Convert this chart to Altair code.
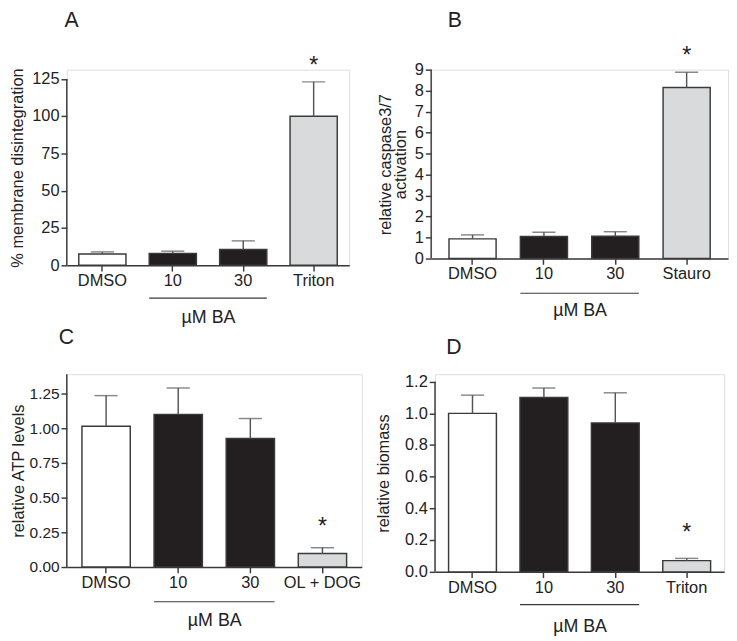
import altair as alt
import pandas as pd

FONT = "Liberation Sans"
TXT = "#222222"
LINE = "#3a3a3a"

# ---------------- data ----------------
A_cond = ["DMSO", "10", "30", "Triton"]
A_mean = [7.6, 8.0, 10.6, 100.0]
A_err = [9.0, 9.5, 16.4, 123.0]
A_star = [None, None, None, 133.7]

B_cond = ["DMSO", "10", "30", "Stauro"]
B_mean = [0.94, 1.05, 1.06, 8.15]
B_err = [1.13, 1.25, 1.28, 8.88]
B_star = [None, None, None, 9.66]

C_cond = ["DMSO", "10", "30", "OL + DOG"]
C_mean = [1.015, 1.10, 0.926, 0.097]
C_err = [1.235, 1.29, 1.07, 0.139]
C_star = [None, None, None, 0.288]

D_cond = ["DMSO", "10", "30", "Triton"]
D_mean = [1.0, 1.10, 0.94, 0.071]
D_err = [1.115, 1.16, 1.13, 0.085]
D_star = [None, None, None, 0.241]

groups = ["control", "BA", "BA", "positive"]
group_domain = ["control", "BA", "positive"]
group_colors = ["#ffffff", "#231f20", "#d9dadb"]


def panel(letter, cond, mean, err, star, ytitle, yticks, yfmt, axis_top,
          dmax, width, height, pin, pout, title_pad, bracket_off, letter_xy,
          ytitle_pad, ylabel_size):
    df = pd.DataFrame({"cond": cond, "mean": mean, "err": err,
                       "star": star, "group": groups})
    xscale = alt.Scale(domain=cond, paddingInner=pin, paddingOuter=pout)
    xaxis = alt.Axis(labelAngle=0, title="µM BA", titlePadding=title_pad,
                     titleFontSize=18.5, titleFontWeight="normal",
                     labelFontSize=17, tickSize=6, labelPadding=2,
                     domainColor=LINE, tickColor=LINE, domainWidth=1.5,
                     tickWidth=1.5, labelColor=TXT, titleColor=TXT,
                     labelFont=FONT, titleFont=FONT)
    yscale = alt.Scale(domain=[0, dmax], nice=False, zero=True)
    yaxis = alt.Axis(values=yticks, format=yfmt, domain=False, grid=False,
                     tickSize=6, labelPadding=2, labelFontSize=ylabel_size,
                     titleFontSize=17, titleFontWeight="normal",
                     titlePadding=ytitle_pad, titleLineHeight=16,
                     tickColor=LINE, tickWidth=1.5, labelColor=TXT,
                     titleColor=TXT, labelFont=FONT, titleFont=FONT)

    def X(f="cond", **kw):
        return alt.X(f"{f}:N", scale=xscale, axis=xaxis, title="µM BA", **kw)

    def Y(f):
        return alt.Y(f"{f}:Q", scale=yscale, axis=yaxis, title=ytitle)

    base = alt.Chart(df)
    bars = base.mark_bar(stroke=LINE, strokeWidth=1.5).encode(
        x=X(), y=Y("mean"),
        fill=alt.Fill("group:N", scale=alt.Scale(domain=group_domain,
                                                 range=group_colors),
                      legend=None))
    erule = base.mark_rule(color="#555555", strokeWidth=1.5).encode(
        x=X(), y=Y("mean"), y2="err")
    ecap = base.mark_tick(color="#555555", thickness=1.5, size=24).encode(
        x=X(), y=Y("err"))
    stars = base.transform_filter("isValid(datum.star)").mark_text(
        text="*", fontSize=24, font=FONT, color=TXT, baseline="middle",
        dy=0).encode(x=X(), y=Y("star"))

    ydom = alt.Chart(pd.DataFrame({"y0": [0], "y1": [axis_top]})).mark_rule(
        color=LINE, strokeWidth=1.5).encode(
        x=alt.value(0), y=Y("y0"), y2="y1")

    bdf = pd.DataFrame({"cond": ["10"], "cond2": ["30"]})
    bracket = alt.Chart(bdf).mark_rule(color=LINE, strokeWidth=1.2).encode(
        x=X(bandPosition=0), x2=alt.X2("cond2", bandPosition=1),
        y=alt.value(height + bracket_off))

    lab = alt.Chart(pd.DataFrame({"letter": [letter]})).mark_text(
        fontSize=22, font=FONT, color=TXT, align="center",
        baseline="middle").encode(text="letter:N",
                                  x=alt.value(letter_xy[0]),
                                  y=alt.value(letter_xy[1]))

    return alt.layer(bars, erule, ecap, stars, ydom, bracket, lab).properties(
        width=width, height=height)


pA = panel("A", A_cond, A_mean, A_err, A_star, "% membrane disintegration",
           [0, 25, 50, 75, 100, 125], "d", 125, 131.2, 293, 203,
           0.33, 0.17, 20, 34, (5, -51), 6, 17)
pB = panel("B", B_cond, B_mean, B_err, B_star,
           ["relative  caspase3/7", "activation"],
           [0, 1, 2, 3, 4, 5, 6, 7, 8, 9], "d", 9, 9.0, 308, 196,
           0.34, 0.25, 20, 36, (24.5, -51), 5, 17)
pC = panel("C", C_cond, C_mean, C_err, C_star, "relative ATP levels",
           [0, 0.25, 0.5, 0.75, 1.0, 1.25], ".2f", 1.389, 1.389, 306, 200,
           0.33, 0.21, 22, 36, (-0.5, -38), 1.5, 16)
pD = panel("D", D_cond, D_mean, D_err, D_star, "relative biomass",
           [0, 0.2, 0.4, 0.6, 0.8, 1.0, 1.2], ".1f", 1.2, 1.247, 300, 205,
           0.33, 0.19, 23, 34, (19.5, -28), 13, 17)

row1 = alt.hconcat(pA, pB, spacing=27)
row2 = alt.hconcat(pC, pD, spacing=11)
chart = alt.vconcat(row1, row2, spacing=0).properties(
    padding={"left": 0, "top": -11, "right": 0, "bottom": 0}
).configure_view(stroke=None).configure(font=FONT)

chart.save("out.html", embed_options={"renderer": "svg", "actions": False})
